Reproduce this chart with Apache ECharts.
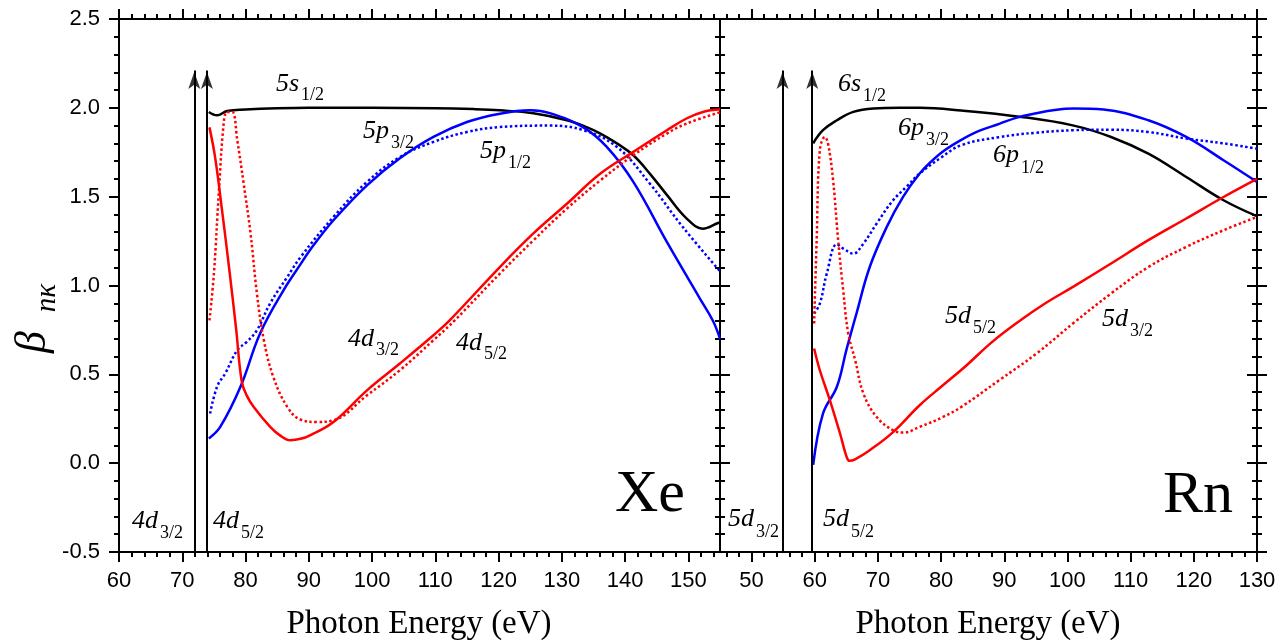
<!DOCTYPE html>
<html><head><meta charset="utf-8">
<script src="https://cdn.jsdelivr.net/npm/echarts@6.0.0/dist/echarts.min.js"></script>
<style>html,body{margin:0;padding:0;background:#fff}#c{width:1287px;height:640px}</style>
</head><body><div id="c"></div>
<script>
// ---------------- DATA ----------------
// Xe panel (photon energy eV, beta)
const xe5s12 = [[74.2,1.977],[75.5,1.958],[77.1,1.982],[80,1.99],[85,1.997],[90,2.0],[100,2.0],[110,1.998],[116,1.993],[120.2,1.986],[125.5,1.969],[130.8,1.93],[134,1.89],[136.1,1.855],[138.7,1.80],[141.3,1.733],[143.9,1.63],[146.6,1.51],[149.7,1.378],[152.3,1.32],[154.7,1.352],[155,1.355]];
const xe5p32 = [[74.2,0.139],[76.0,0.204],[79.2,0.43],[82.3,0.73],[86,0.973],[88.7,1.12],[90.2,1.2],[93.9,1.367],[99.2,1.564],[104.4,1.716],[109.7,1.836],[115,1.92],[120.2,1.967],[125,1.986],[128.1,1.97],[133.4,1.89],[137.1,1.78],[141.3,1.583],[146.6,1.245],[151.8,0.928],[153.9,0.80],[155,0.70]];
const xe5p12 = [[74.4,0.279],[75.5,0.43],[76.8,0.506],[78.7,0.636],[80.2,0.683],[81.8,0.748],[83.9,0.90],[86.6,1.048],[88.7,1.16],[93.9,1.386],[99.2,1.583],[104.4,1.723],[109.7,1.808],[115,1.864],[120.2,1.892],[128.1,1.90],[133.4,1.874],[138.7,1.78],[143.9,1.574],[149.1,1.33],[155,1.08]];
const xe4dSolid = [[74.3,1.89],[75.2,1.72],[76.3,1.42],[77.4,1.10],[78.5,0.76],[79.4,0.46],[80.2,0.38],[81.3,0.316],[83.9,0.204],[85.5,0.155],[87.1,0.129],[88.7,0.137],[90.2,0.157],[93.9,0.232],[99.2,0.41],[104.4,0.561],[109.7,0.72],[112.3,0.805],[120.2,1.104],[125.5,1.293],[130.8,1.46],[136.1,1.63],[141.3,1.752],[146.6,1.874],[149.7,1.94],[152.3,1.977],[155,1.99]];
const xe4dDotted = [[74.3,0.804],[75.0,1.067],[75.8,1.536],[76.6,1.93],[77.1,1.977],[77.9,1.977],[78.7,1.817],[79.7,1.574],[80.8,1.292],[81.8,0.955],[82.9,0.692],[84.4,0.485],[86.6,0.317],[88.7,0.245],[91.3,0.232],[93.9,0.241],[99.2,0.382],[104.4,0.523],[109.7,0.692],[113.1,0.805],[120.2,1.067],[125.5,1.254],[130.8,1.433],[136.1,1.592],[141.3,1.733],[146.6,1.855],[149.7,1.911],[155,1.975]];
// Rn panel
const rn6s12 = [[59.75,1.80],[61.3,1.874],[63.5,1.93],[66.1,1.977],[69.3,1.996],[73.5,2.0],[76.6,2.0],[83.2,1.985],[92.7,1.949],[101,1.90],[106.9,1.836],[112.8,1.742],[118.8,1.611],[124.7,1.48],[130,1.39]];
const rn6p32 = [[59.75,-0.01],[61.3,0.279],[63.5,0.43],[65.0,0.636],[66.6,0.842],[68.7,1.104],[71.4,1.33],[74,1.50],[76.6,1.63],[78.5,1.70],[80.5,1.76],[83.2,1.82],[86,1.87],[89.2,1.91],[92,1.945],[95.1,1.97],[98,1.988],[101,1.996],[105.7,1.99],[112.8,1.93],[118.8,1.836],[124.7,1.705],[130,1.583]];
const rn6p12 = [[59.9,0.842],[60.8,0.898],[61.9,1.067],[63.5,1.232],[64.5,1.208],[66.1,1.18],[67.7,1.236],[69.8,1.349],[72.4,1.48],[74.5,1.555],[76.6,1.63],[80,1.72],[83.2,1.79],[89.2,1.835],[95,1.86],[101,1.874],[106.9,1.877],[112.8,1.864],[118.8,1.827],[124.7,1.80],[130,1.77]];
const rn5dSolid = [[59.9,0.645],[60.8,0.523],[62.4,0.354],[64.0,0.167],[65.0,0.04],[65.5,0.013],[66.3,0.02],[68.7,0.073],[72.4,0.175],[76.6,0.326],[80,0.43],[84,0.55],[88,0.68],[92.4,0.80],[96.5,0.90],[101,0.995],[106.9,1.124],[112.8,1.255],[118.8,1.377],[124.7,1.498],[130,1.60]];
const rn5dDotted = [[59.9,0.786],[60.3,1.255],[60.8,1.761],[61.6,1.836],[62.1,1.80],[62.9,1.592],[63.7,1.255],[64.5,0.973],[65.3,0.73],[66.4,0.58],[67.7,0.392],[69.8,0.26],[72.4,0.185],[74,0.172],[76.6,0.204],[80.3,0.26],[83.2,0.317],[89.2,0.467],[95.1,0.617],[101,0.79],[106.9,0.955],[112.8,1.104],[118.8,1.217],[124.7,1.311],[130,1.386]];
// thresholds (arrows)
const xeThresholds = [71.9, 73.9];
const rnThresholds = [54.9, 59.6];
const arrowTop = 2.25;
// axis ticks
const xeMajor = [60,70,80,90,100,110,120,130,140,150];
const xeMinor = [62,64,66,68,72,74,76,78,82,84,86,88,92,94,96,98,102,104,106,108,112,114,116,118,122,124,126,128,132,134,136,138,142,144,146,148,152,154];
const rnMajor = [50,60,70,80,90,100,110,120,130];
const rnMinor = [46,48,52,54,56,58,62,64,66,68,72,74,76,78,82,84,86,88,92,94,96,98,102,104,106,108,112,114,116,118,122,124,126,128];
const Y_MIN = -0.5, Y_MAX = 2.5, Y_STEP = 0.5;
const XE_RANGE = [60, 155], RN_RANGE = [45, 130];

// ---------------- STYLE / LAYOUT ----------------
const SANS = '"Liberation Sans", Arial, sans-serif';
const SERIF = '"Liberation Serif", "Times New Roman", serif';
const RED = '#ff0000', BLUE = '#0000ff', BLACK = '#000000';
const chart = echarts.init(document.getElementById('c'), null, {renderer: 'canvas'});

const tickStyle = {color: '#000', width: 2};
const axLine = {show: true, onZero: false, lineStyle: {color: '#000', width: 2}};
const noLine = {show: false, onZero: false};
function xAxesFor(gi, range, major, minor) {
  const base = {type: 'value', gridIndex: gi, min: range[0], max: range[1], splitLine: {show: false}};
  return [
    Object.assign({}, base, {position: 'bottom', axisLine: axLine,
      axisTick: {show: true, customValues: major, length: 10, lineStyle: tickStyle},
      axisLabel: {show: true, customValues: major, fontSize: 22, color: '#000', fontFamily: SANS, margin: 18}}),
    Object.assign({}, base, {position: 'bottom', axisLine: noLine,
      axisTick: {show: true, customValues: minor, length: 5, lineStyle: tickStyle}, axisLabel: {show: false}}),
    Object.assign({}, base, {position: 'top', axisLine: axLine,
      axisTick: {show: true, customValues: major, length: 10, lineStyle: tickStyle}, axisLabel: {show: false}}),
    Object.assign({}, base, {position: 'top', axisLine: noLine,
      axisTick: {show: true, customValues: minor, length: 5, lineStyle: tickStyle}, axisLabel: {show: false}})
  ];
}
function yAxisFor(gi, pos, withLabel, inside, showLine) {
  return {type: 'value', gridIndex: gi, position: pos, min: Y_MIN, max: Y_MAX, interval: Y_STEP,
    splitLine: {show: false}, minorSplitLine: {show: false},
    axisLine: showLine ? axLine : noLine,
    axisTick: {show: true, inside: inside, length: 10, lineStyle: tickStyle},
    minorTick: {show: true, splitNumber: 5, length: 5, lineStyle: tickStyle},
    axisLabel: withLabel ? {show: true, fontSize: 22, color: '#000', fontFamily: SANS, margin: 19,
      formatter: v => v.toFixed(1)} : {show: false}};
}

function line(name, data, color, dotted, xi, yi) {
  return {name, type: 'line', data, xAxisIndex: xi, yAxisIndex: yi, showSymbol: false, symbol: 'none',
    smooth: 0.4, clip: true, silent: true, emphasis: {disabled: true},
    lineStyle: {color, width: 2.5, type: dotted ? 'dotted' : 'solid'}, z: 3};
}
function arrowLines(xi, yi, xs) {
  return {type: 'line', data: [], xAxisIndex: xi, yAxisIndex: yi, silent: true,
    markLine: {silent: true, animation: false, symbol: ['none', 'none'],
      label: {show: false}, emphasis: {disabled: true},
      lineStyle: {color: '#000', width: 2, type: 'solid'},
      data: xs.map(x => [{coord: [x, Y_MIN]}, {coord: [x, arrowTop - 0.04]}])}};
}
function arrowHeads(xi, yi, xs) {
  return {type: 'scatter', xAxisIndex: xi, yAxisIndex: yi, silent: true, z: 4,
    data: xs.map(x => [x, arrowTop]), symbol: 'arrow', symbolSize: [9, 17], symbolOffset: [0, '50%'],
    itemStyle: {color: '#000'}, emphasis: {disabled: true}};
}

// subscript labels
const meas = document.createElement('canvas').getContext('2d');
function tw(t, f) { meas.font = f; return meas.measureText(t).width; }
function subLabel(main, sub, x, base, subBase, ms, ss) {
  const w = tw(main, 'italic ' + ms + 'px ' + SERIF);
  return [
    {type: 'text', x: x, y: base - 0.34 * ms, z: 10, silent: true,
      style: {text: main, fontSize: ms, fontStyle: 'italic', fontFamily: SERIF, fill: '#000', align: 'left', verticalAlign: 'middle'}},
    {type: 'text', x: x + w + 2, y: subBase - 0.34 * ss, z: 10, silent: true,
      style: {text: sub, fontSize: ss, fontFamily: SERIF, fill: '#000', align: 'left', verticalAlign: 'middle'}}
  ];
}
const labelLayout = [
  ['5s','1/2',276,93,101],['5p','3/2',363,140,149],['5p','1/2',480,160,169],
  ['4d','3/2',348,348,356],['4d','5/2',456,352,360],['4d','3/2',132,530,539],['4d','5/2',213,530,539],
  ['6s','1/2',838,93,102],['6p','3/2',898,137,146],['6p','1/2',993,164,174],
  ['5d','5/2',945,325,334],['5d','3/2',1102,328,337],['5d','3/2',728,528,538],['5d','5/2',823,528,538]
];
let graphics = [];
labelLayout.forEach(l => { graphics = graphics.concat(subLabel(l[0], l[1], l[2], l[3], l[4], 26, 18)); });
graphics.push(
  {type: 'text', x: 615, y: 495, silent: true, style: {text: 'Xe', fontSize: 60, fontFamily: SERIF, fill: '#000', align: 'left', verticalAlign: 'middle'}},
  {type: 'text', x: 1163, y: 496, silent: true, style: {text: 'Rn', fontSize: 60, fontFamily: SERIF, fill: '#000', align: 'left', verticalAlign: 'middle'}},
  {type: 'text', x: 419, y: 624, silent: true, style: {text: 'Photon Energy (eV)', fontSize: 33, fontFamily: SERIF, fill: '#000', align: 'center', verticalAlign: 'middle'}},
  {type: 'text', x: 988, y: 624, silent: true, style: {text: 'Photon Energy (eV)', fontSize: 33, fontFamily: SERIF, fill: '#000', align: 'center', verticalAlign: 'middle'}},
  {type: 'text', x: 33, y: 342, rotation: Math.PI / 2, silent: true, style: {text: 'β', fontSize: 44, fontStyle: 'italic', fontFamily: SERIF, fill: '#000', align: 'center', verticalAlign: 'middle'}},
  {type: 'text', x: 47, y: 298, rotation: Math.PI / 2, silent: true, style: {text: 'nκ', fontSize: 29, fontStyle: 'italic', fontFamily: SERIF, fill: '#000', align: 'center', verticalAlign: 'middle'}}
);

const option = {
  animation: false,
  backgroundColor: '#fff',
  grid: [
    {left: 119, top: 19, width: 601, height: 533, containLabel: false},
    {left: 720, top: 19, width: 537, height: 533, containLabel: false}
  ],
  xAxis: xAxesFor(0, XE_RANGE, xeMajor, xeMinor).concat(xAxesFor(1, RN_RANGE, rnMajor, rnMinor)),
  yAxis: [
    yAxisFor(0, 'left', true, false, true),
    yAxisFor(0, 'right', false, false, true),
    yAxisFor(1, 'left', false, false, true),
    yAxisFor(1, 'right', false, false, true),
    yAxisFor(1, 'right', false, true, false)
  ],
  series: [
    arrowLines(0, 0, xeThresholds),
    arrowHeads(0, 0, xeThresholds),
    line('Xe 5s1/2', xe5s12, BLACK, false, 0, 0),
    line('Xe 5p3/2', xe5p32, BLUE, false, 0, 0),
    line('Xe 5p1/2', xe5p12, BLUE, true, 0, 0),
    line('Xe 4d solid', xe4dSolid, RED, false, 0, 0),
    line('Xe 4d dotted', xe4dDotted, RED, true, 0, 0),
    arrowLines(4, 2, rnThresholds),
    arrowHeads(4, 2, rnThresholds),
    line('Rn 6s1/2', rn6s12, BLACK, false, 4, 2),
    line('Rn 6p3/2', rn6p32, BLUE, false, 4, 2),
    line('Rn 6p1/2', rn6p12, BLUE, true, 4, 2),
    line('Rn 5d5/2', rn5dSolid, RED, false, 4, 2),
    line('Rn 5d3/2', rn5dDotted, RED, true, 4, 2)
  ],
  graphic: graphics
};
chart.setOption(option);
</script></body></html>
